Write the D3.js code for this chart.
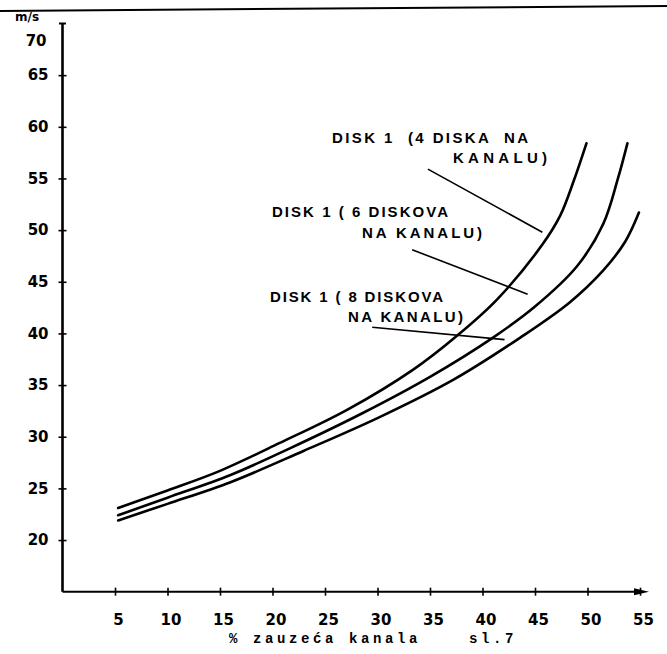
<!DOCTYPE html>
<html><head><meta charset="utf-8">
<script src="https://cdn.jsdelivr.net/npm/d3@7"></script>
<style>
html,body{margin:0;padding:0;background:#fff;}
svg{display:block;}
</style></head>
<body>
<svg id="chart" width="667" height="654"></svg>
<script>
// ---- data (x: % zauzeća kanala, y: m/s) ----
const xTicks = [5, 10, 15, 20, 25, 30, 35, 40, 45, 50, 55];
const yTicks = [20, 25, 30, 35, 40, 45, 50, 55, 60, 65];
const yTopLabel = 70;
const seriesNames = ["DISK 1 (4 DISKA NA KANALU)", "DISK 1 (6 DISKOVA NA KANALU)", "DISK 1 (8 DISKOVA NA KANALU)"];
const disk4X = [5.3, 10, 15, 20.7, 27.1, 33.4, 37.6, 41.4, 45.7, 47.4, 48.7, 49.9];
const disk4Y = [23.1, 24.8, 26.7, 29.4, 32.6, 36.5, 39.8, 43.3, 48.6, 51.4, 54.8, 58.4];
const disk6X = [5.3, 10, 16, 21.7, 28.6, 35.0, 41.0, 45.0, 49.0, 51.5, 52.9, 53.8];
const disk6Y = [22.4, 24.1, 26.3, 28.9, 32.3, 35.8, 39.6, 42.6, 46.5, 50.6, 55.0, 58.4];
const disk8X = [5.3, 10, 16, 22.9, 30.2, 37.2, 43.6, 48.3, 51.5, 53.6, 54.9];
const disk8Y = [21.9, 23.5, 25.6, 28.6, 31.9, 35.5, 39.6, 43.0, 46.1, 48.9, 51.7];
const xTitle = "% zauzeća kanala    sl.7";
const yUnit = "m/s";

// ---- layout ----
const svg = d3.select("#chart");
const x = d3.scaleLinear().domain([0, 55]).range([62.5, 640]);
const y = d3.scaleLinear().domain([15, 70]).range([591.7, 23.5]);
const tickFont = "DejaVu Sans";

// scan edge line at top
svg.append("line").attr("x1", 0).attr("y1", 11).attr("x2", 667).attr("y2", 6)
  .attr("stroke", "#000").attr("stroke-width", 2);

// y axis
const yAxis = d3.axisLeft(y).tickValues(yTicks).tickSize(4).tickSizeOuter(0).tickPadding(10);
const gy = svg.append("g").attr("transform", `translate(${x(0)},0)`).call(yAxis);
gy.select(".domain").remove();
gy.selectAll(".tick line").attr("x1", -4).attr("x2", 4).attr("stroke", "#000").attr("stroke-width", 1.6);
gy.selectAll(".tick text").attr("x", -14).attr("font-family", tickFont).attr("font-weight", "bold")
  .attr("font-size", 15).attr("fill", "#000");
svg.append("text").attr("x", x(0) - 16).attr("y", y(yTopLabel) + 17).attr("dy", "0.35em")
  .attr("text-anchor", "end").attr("font-family", tickFont).attr("font-weight", "bold").attr("font-size", 15)
  .text(yTopLabel);
svg.append("line").attr("x1", x(0)).attr("x2", x(0)).attr("y1", y(yTopLabel)).attr("y2", y(15))
  .attr("stroke", "#000").attr("stroke-width", 2.6);
svg.append("line").attr("x1", x(0) - 3.5).attr("x2", x(0) + 3.5).attr("y1", y(yTopLabel)).attr("y2", y(yTopLabel))
  .attr("stroke", "#000").attr("stroke-width", 2);
svg.append("text").attr("x", 15).attr("y", 21).attr("font-family", tickFont).attr("font-weight", "bold")
  .attr("font-size", 12).text(yUnit);

// x axis
const xAxis = d3.axisBottom(x).tickValues(xTicks).tickSize(4).tickSizeOuter(0);
const gx = svg.append("g").attr("transform", `translate(0,${y(15)})`).call(xAxis);
gx.select(".domain").remove();
gx.selectAll(".tick line").attr("y1", -4).attr("y2", 4).attr("stroke", "#000").attr("stroke-width", 1.6);
gx.selectAll(".tick text").attr("x", 3).attr("y", 28).attr("dy", "0.35em").attr("font-family", tickFont)
  .attr("font-weight", "bold").attr("font-size", 15).attr("fill", "#000");
svg.append("line").attr("x1", x(0)).attr("x2", 641).attr("y1", y(15)).attr("y2", y(15))
  .attr("stroke", "#000").attr("stroke-width", 2);
svg.append("path").attr("d", `M634,${y(15) - 3.5} L649,${y(15)} L634,${y(15) + 3.5} Z`).attr("fill", "#000");

svg.append("text").attr("x", 229).attr("y", 643).attr("font-family", "Liberation Mono").attr("font-weight", "bold")
  .attr("font-size", 14).attr("letter-spacing", 3.6).style("white-space", "pre").text(xTitle);

// curves
const line = d3.line().x(d => x(d[0])).y(d => y(d[1])).curve(d3.curveCatmullRom.alpha(0.5));
const series = [
  d3.zip(disk4X, disk4Y),
  d3.zip(disk6X, disk6Y),
  d3.zip(disk8X, disk8Y)
];
svg.append("g").selectAll("path").data(series).join("path")
  .attr("d", line).attr("fill", "none").attr("stroke", "#000").attr("stroke-width", 2.6)
  .attr("stroke-linecap", "round");

// annotations (leader lines in data coords)
const leaders = [
  [[34.8, 55.9], [45.7, 49.8]],
  [[33.3, 48.1], [44.3, 43.8]],
  [[29.5, 40.6], [42.1, 39.4]]
];
svg.append("g").selectAll("line").data(leaders).join("line")
  .attr("x1", d => x(d[0][0])).attr("y1", d => y(d[0][1]))
  .attr("x2", d => x(d[1][0])).attr("y2", d => y(d[1][1]))
  .attr("stroke", "#000").attr("stroke-width", 1.6);

const labelLines = [
  {t: "DISK 1  (4 DISKA  NA", x: 332, y: 143, w: 196},
  {t: "KANALU)", x: 453, y: 163, w: 94},
  {t: "DISK 1 ( 6 DISKOVA", x: 272, y: 217, w: 176},
  {t: "NA KANALU)", x: 362, y: 238, w: 120},
  {t: "DISK 1 ( 8 DISKOVA", x: 270, y: 302, w: 173},
  {t: "NA KANALU)", x: 348, y: 322, w: 115}
];
svg.append("g").selectAll("text").data(labelLines).join("text")
  .attr("x", d => d.x).attr("y", d => d.y).attr("textLength", d => d.w).attr("lengthAdjust", "spacing")
  .attr("font-family", "Liberation Sans").attr("font-weight", "bold").attr("font-size", 15)
  .style("white-space", "pre")
  .text(d => d.t);
</script>
</body></html>
